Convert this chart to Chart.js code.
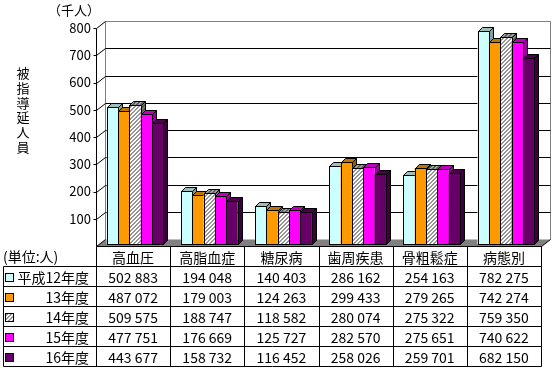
<!DOCTYPE html>
<html>
<head>
<meta charset="utf-8">
<script src="https://cdn.jsdelivr.net/npm/chart.js@4.4.0/dist/chart.umd.min.js"></script>
<style>
  html, body { margin: 0; padding: 0; background: #fff; overflow: hidden; }
  #wrap { width: 553px; height: 370px; }
</style>
</head>
<body>
<div id="wrap"><canvas id="c" width="553" height="370"></canvas></div>
<script>
// data (people, table values) - chart shows thousands
const categories = ['高血圧', '高脂血症', '糖尿病', '歯周疾患', '骨粗鬆症', '病態別'];
const years = ['平成12年度', '13年度', '14年度', '15年度', '16年度'];
const h12 = [502883, 194048, 140403, 286162, 254163, 782275];
const h13 = [487072, 179003, 124263, 299433, 279265, 742274];
const h14 = [509575, 188747, 118582, 280074, 275322, 759350];
const h15 = [477751, 176669, 125727, 282570, 275651, 740622];
const h16 = [443677, 158732, 116452, 258026, 259701, 682150];
const yTicks = [100, 200, 300, 400, 500, 600, 700, 800];
const unitLabel = '(単位:人)';
const axisUnit = '（千人）';
const axisTitle = '被指導延人員';

const series = [h12, h13, h14, h15, h16];
const FONT = "'Noto Sans CJK JP', sans-serif";

const canvas = document.getElementById('c');
const ctx = canvas.getContext('2d');

// diagonal hatch fill for 14年度
function hatch(bg, fg) {
    const c = document.createElement('canvas');
    c.width = 4; c.height = 4;
    const g = c.getContext('2d');
    g.fillStyle = bg; g.fillRect(0, 0, 4, 4);
    g.fillStyle = fg;
    for (let x = 0; x < 4; x++)
        for (let y = 0; y < 4; y++)
            if ((x + y) % 4 < 2) g.fillRect(x, y, 1, 1);
    return ctx.createPattern(c, 'repeat');
}

const faceColors = ['#CCFFFF', '#FF9900', hatch('#ffffff', '#969696'), '#FF00FF', '#660066'];
const topColors = ['#99BFBF', '#BF7300', hatch('#a0a0a0', '#606060'), '#BF00BF', '#4C004C'];
const sideColors = ['#7FA0A0', '#995C00', hatch('#808080', '#505050'), '#990099', '#3D003D'];

const WALL = { x: 9, y: -7 };   // depth of the back wall
const BAR = { x: 4, y: -4 };    // depth of each bar
const SHIFT = { x: 2, y: -2 };  // bars sit a little behind the front plane

function line(c, x1, y1, x2, y2) {
    c.beginPath(); c.moveTo(x1, y1); c.lineTo(x2, y2); c.stroke();
}
function poly(c, pts, fill) {
    c.beginPath();
    c.moveTo(pts[0][0], pts[0][1]);
    for (let i = 1; i < pts.length; i++) c.lineTo(pts[i][0], pts[i][1]);
    c.closePath();
    c.fillStyle = fill; c.fill();
    c.strokeStyle = '#000'; c.lineWidth = 1; c.stroke();
}
function fmt(v) {
    return String(v).replace(/\B(?=(\d{3})+(?!\d))/g, ' ');
}

const walls = {
    id: 'walls',
    beforeDatasetsDraw(chart) {
        const { ctx, chartArea: a, scales: { y } } = chart;
        const L = a.left + 0.5, R = a.right + 0.5, B = a.bottom + 0.5;
        ctx.save();
        ctx.lineWidth = 1;
        // floor
        ctx.fillStyle = '#808080';
        ctx.beginPath();
        ctx.moveTo(L, B); ctx.lineTo(L + WALL.x, B + WALL.y);
        ctx.lineTo(R + WALL.x, B + WALL.y); ctx.lineTo(R, B); ctx.closePath();
        ctx.fill();
        // back wall edges
        const T = Math.round(y.getPixelForValue(yTicks[yTicks.length - 1])) + 0.5;
        ctx.strokeStyle = '#808080';
        line(ctx, L + WALL.x, T + WALL.y, L + WALL.x, B + WALL.y);
        line(ctx, R + WALL.x, T + WALL.y, R + WALL.x, B + WALL.y);
        // grid lines on back wall and side wall
        yTicks.forEach(v => {
            const py = Math.round(y.getPixelForValue(v)) + 0.5;
            ctx.strokeStyle = v === yTicks[yTicks.length - 1] ? '#808080' : '#000';
            line(ctx, L + WALL.x, py + WALL.y, R + WALL.x, py + WALL.y);
            ctx.strokeStyle = '#000';
            line(ctx, L, py, L + WALL.x, py + WALL.y);
            line(ctx, L - 3, py, L, py);
        });
        ctx.strokeStyle = '#000';
        line(ctx, L, B, L + WALL.x, B + WALL.y);
        line(ctx, R, B, R + WALL.x, B + WALL.y);
        // front value axis
        line(ctx, L, T, L, B);
        ctx.restore();
        ctx.save();
        ctx.translate(SHIFT.x, SHIFT.y);
    },
    afterDatasetsDraw(chart) {
        const ctx = chart.ctx;
        // redraw bars left to right so each bar's side is hidden by its neighbour
        for (let j = 0; j < categories.length; j++) {
            for (let i = 0; i < series.length; i++) {
                const el = chart.getDatasetMeta(i).data[j];
                const { x, y, base, width } = el.getProps(['x', 'y', 'base', 'width'], true);
                el.draw(ctx);
                const l = Math.round(x - width / 2) + 0.5;
                const r = Math.round(x + width / 2) + 0.5;
                const t = Math.round(y) + 0.5;
                const b = Math.round(base) + 0.5;
                ctx.strokeStyle = '#000'; ctx.lineWidth = 1;
                ctx.strokeRect(l, t, r - l, b - t);
                poly(ctx, [[l, t], [l + BAR.x, t + BAR.y], [r + BAR.x, t + BAR.y], [r, t]], topColors[i]);
                poly(ctx, [[r, t], [r + BAR.x, t + BAR.y], [r + BAR.x, b + BAR.y], [r, b]], sideColors[i]);
            }
        }
        ctx.restore();
    }
};

const table = {
    id: 'table',
    afterDraw(chart) {
        const { ctx, chartArea: a, scales: { x } } = chart;
        const rowH = 20;
        const top = Math.round(a.bottom) + 0.5;
        const colW = x.width / categories.length;
        const legendLeft = 3.5;
        const bottom = top + rowH * (years.length + 1);
        ctx.save();
        ctx.strokeStyle = '#000';
        ctx.lineWidth = 1;
        // horizontal lines
        line(ctx, a.left + 0.5, top, a.right + 0.5, top);
        for (let r = 1; r <= years.length + 1; r++) {
            line(ctx, legendLeft, top + r * rowH, a.right + 0.5, top + r * rowH);
        }
        // vertical lines
        line(ctx, legendLeft, top + rowH, legendLeft, bottom);
        for (let k = 0; k <= categories.length; k++) {
            const px = Math.round(x.getPixelForValue(0) - colW / 2 + k * colW) + 0.5;
            line(ctx, px, top, px, bottom);
        }
        ctx.fillStyle = '#000';
        ctx.textBaseline = 'middle';
        ctx.font = '14px ' + FONT;
        ctx.textAlign = 'left';
        ctx.fillText(unitLabel, 3, top + rowH / 2);
        ctx.textAlign = 'center';
        categories.forEach((c, j) => ctx.fillText(c, x.getPixelForValue(j), top + rowH / 2 + 1));
        years.forEach((yr, i) => {
            const cy = top + rowH * (i + 1) + rowH / 2 + 1;
            // legend key
            ctx.fillStyle = faceColors[i];
            ctx.fillRect(5, Math.round(cy - 5), 8, 9);
            ctx.strokeStyle = '#000';
            ctx.strokeRect(5.5, Math.round(cy - 5) + 0.5, 8, 8);
            ctx.fillStyle = '#000';
            ctx.textAlign = 'right';
            ctx.fillText(yr, 89, cy);
            ctx.textAlign = 'center';
            series[i].forEach((v, j) => ctx.fillText(fmt(v), x.getPixelForValue(j), cy));
        });
        // axis unit and title
        ctx.font = '13px ' + FONT;
        ctx.fillText(axisUnit, 74, 10);
        [...axisTitle].forEach((ch, k) => ctx.fillText(ch, 23, 73 + k * 14.8));
        ctx.restore();
    }
};

new Chart(ctx, {
    type: 'bar',
    data: {
        labels: categories,
        datasets: series.map((s, i) => ({
            label: years[i],
            data: s.map(v => v / 1000),
            backgroundColor: faceColors[i],
            borderWidth: 0,
            categoryPercentage: 0.763,
            barPercentage: 1
        }))
    },
    options: {
        responsive: false,
        animation: false,
        devicePixelRatio: 1,
        layout: { padding: { left: 0, top: 28, right: 12, bottom: 124 } },
        plugins: { legend: { display: false }, tooltip: { enabled: false } },
        scales: {
            x: { display: false },
            y: {
                min: 0,
                max: 800,
                afterFit(s) { s.width = 96; },
                afterBuildTicks(s) { s.ticks = yTicks.map(v => ({ value: v })); },
                grid: { display: false, drawTicks: false },
                border: { display: false },
                ticks: { padding: 5, color: '#000', font: { family: FONT, size: 13 } }
            }
        }
    },
    plugins: [walls, table]
});
</script>
</body>
</html>
